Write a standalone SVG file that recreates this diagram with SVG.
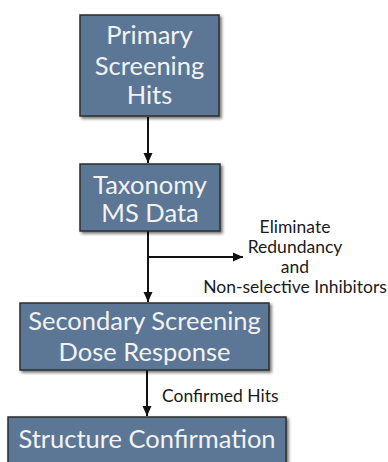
<svg xmlns="http://www.w3.org/2000/svg" width="388" height="462" viewBox="0 0 388 462">
<defs>
<filter id="sh" x="-10%" y="-10%" width="130%" height="130%">
<feDropShadow dx="2" dy="2" stdDeviation="1.5" flood-color="#000" flood-opacity="0.55"/>
</filter>
<marker id="ah" viewBox="0 0 10 10" refX="10" refY="5" markerWidth="10" markerHeight="10" markerUnits="userSpaceOnUse" orient="auto">
<path d="M0,0.5 L10,5 L0,9.5 Z" fill="#111"/>
</marker>
</defs>
<style>
.box{fill:#5b7795;stroke:#2e2e2e;stroke-width:1.5;filter:url(#sh)}
.bt{font-family:Lato,"Open Sans",sans-serif;font-size:25.5px;fill:#f2f2f2;text-anchor:middle}
.lt{font-family:Lato,"Open Sans",sans-serif;font-size:17.5px;fill:#1a1a1a}
.ln{stroke:#111;stroke-width:2;fill:none}
</style>
<rect width="388" height="462" fill="#fff"/>
<g id="connectors">
<line class="ln" x1="148" y1="117" x2="148" y2="163" marker-end="url(#ah)"/>
<line class="ln" x1="148" y1="231" x2="148" y2="302" marker-end="url(#ah)"/>
<line class="ln" x1="148" y1="257" x2="243" y2="257" marker-end="url(#ah)"/>
<line class="ln" x1="147" y1="370" x2="147" y2="416" marker-end="url(#ah)"/>
</g>
<g id="primary">
<rect class="box" x="80" y="15" width="139" height="101"/>
<text class="bt" x="149.5" y="44">Primary</text>
<text class="bt" x="149.5" y="75">Screening</text>
<text class="bt" x="149.5" y="104">Hits</text>
</g>
<g id="taxonomy">
<rect class="box" x="80" y="164" width="140" height="67"/>
<text class="bt" x="150" y="194">Taxonomy</text>
<text class="bt" x="150" y="222">MS Data</text>
</g>
<g id="eliminate">
<text class="lt" x="295" y="233" text-anchor="middle">Eliminate</text>
<text class="lt" x="295" y="253" text-anchor="middle">Redundancy</text>
<text class="lt" x="295" y="273" text-anchor="middle">and</text>
<text class="lt" x="295" y="293" text-anchor="middle">Non-selective Inhibitors</text>
</g>
<g id="secondary">
<rect class="box" x="20" y="303" width="249" height="67"/>
<text class="bt" x="144.5" y="330">Secondary Screening</text>
<text class="bt" x="144.5" y="361">Dose Response</text>
</g>
<g id="confirmed">
<text class="lt" x="162" y="402">Confirmed Hits</text>
</g>
<g id="structure">
<rect class="box" x="8" y="417" width="278" height="60"/>
<text class="bt" x="147" y="448">Structure Confirmation</text>
</g>
</svg>
